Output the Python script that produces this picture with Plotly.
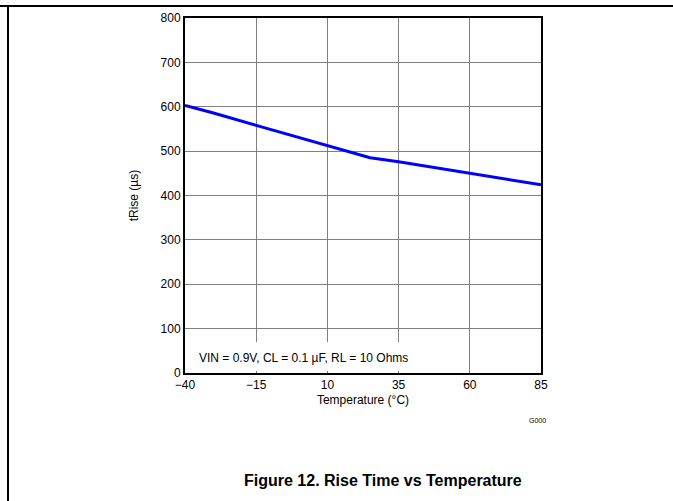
import plotly.graph_objects as go

temperature = [-40, -30, -15, 0, 10, 20, 25, 35, 60, 85]
trise_us = [603, 586, 558, 531, 512, 494, 485, 476, 450, 424]

x_ticks = [-40, -15, 10, 35, 60, 85]
x_ticklabels = ["−40", "−15", "10", "35", "60", "85"]
y_ticks = [0, 100, 200, 300, 400, 500, 600, 700, 800]
y_ticklabels = [str(v) for v in y_ticks]

FONT = "Liberation Sans, Arial, sans-serif"

fig = go.Figure()
fig.add_trace(go.Scatter(
    x=temperature, y=trise_us, mode="lines",
    line=dict(color="#0000FF", width=3), showlegend=False,
))

L, R, T, B = 185, 541, 18, 373
W, H = 673, 501

def px_x(p):
    return (p - L) / (R - L)

def px_y(p):
    return (B - p) / (B - T)

fig.update_layout(
    width=W, height=H,
    margin=dict(l=L, r=W - R, t=T, b=H - B),
    paper_bgcolor="white", plot_bgcolor="white",
    font=dict(family=FONT, size=12, color="black"),
    xaxis=dict(
        range=[-40, 85], tickvals=x_ticks, ticktext=x_ticklabels,
        showgrid=True, gridcolor="#7f7f7f", gridwidth=1,
        showline=True, linecolor="black", linewidth=2, mirror=True,
        ticks="", zeroline=False,
        title=dict(text="Temperature (°C)", font=dict(size=12), standoff=4),
        tickfont=dict(size=12),
    ),
    yaxis=dict(
        range=[0, 800], tickvals=y_ticks, ticktext=y_ticklabels,
        showgrid=True, gridcolor="#7f7f7f", gridwidth=1,
        showline=True, linecolor="black", linewidth=2, mirror=True,
        ticks="", zeroline=False,
        title=dict(text="tRise (µs)", font=dict(size=12), standoff=19),
        tickfont=dict(size=12),
    ),
    shapes=[
        dict(type="line", xref="paper", yref="paper",
             x0=px_x(0), x1=px_x(W), y0=px_y(6), y1=px_y(6),
             line=dict(color="black", width=2)),
        dict(type="line", xref="paper", yref="paper",
             x0=px_x(8), x1=px_x(8), y0=px_y(6), y1=px_y(H + 2),
             line=dict(color="black", width=2)),
    ],
    annotations=[
        dict(text=" ", xref="paper", yref="paper",
             x=px_x(187), y=px_y(371), xanchor="left", yanchor="bottom",
             width=275, height=29, bgcolor="white", borderpad=0,
             borderwidth=0, showarrow=False),
        dict(text="VIN = 0.9V, CL = 0.1 µF, RL = 10 Ohms",
             xref="paper", yref="paper", x=px_x(197), y=px_y(358),
             xanchor="left", yanchor="middle", showarrow=False,
             font=dict(size=12)),
        dict(text="G000", xref="paper", yref="paper",
             x=px_x(548), y=px_y(420), xanchor="right", yanchor="middle",
             showarrow=False, font=dict(size=7)),
        dict(text="<b>Figure 12. Rise Time vs Temperature</b>",
             xref="paper", yref="paper", x=px_x(383), y=px_y(480),
             xanchor="center", yanchor="middle", showarrow=False,
             font=dict(size=16)),
    ],
)

fig.write_html("out.html", config={"displayModeBar": False},
               post_script="document.body.style.margin='0';")
